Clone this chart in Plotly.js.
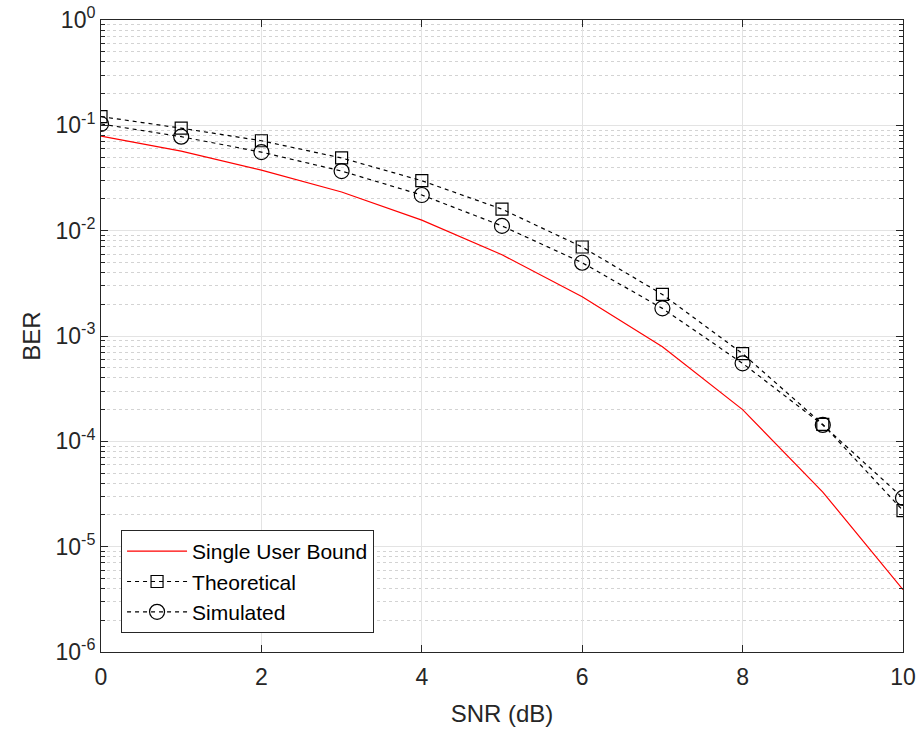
<!DOCTYPE html>
<html>
<head>
<meta charset="utf-8">
<script src="https://cdn.plot.ly/plotly-3.0.1.min.js"></script>
<style>html,body{margin:0;padding:0;background:#fff}#chart{width:920px;height:733px}</style>
</head>
<body>
<div id="chart"></div>
<script>
const snr = [0,1,2,3,4,5,6,7,8,9,10];
const singleUser = [0.079,0.057,0.0376,0.0233,0.0126,0.0059,0.00236,0.00079,0.0002,3.3e-5,3.9e-6];
const theoretical = [0.121,0.094,0.0714,0.049,0.0298,0.016,0.0070,0.00248,0.00068,1.45e-4,2.2e-5];
const simulated = [0.103,0.078,0.0557,0.0368,0.0218,0.0111,0.00496,0.00183,0.00055,1.43e-4,2.9e-5];
const yTickVals = [1e-6,1e-5,1e-4,1e-3,1e-2,1e-1,1];
const yTickText = ['10<sup>-6</sup>','10<sup>-5</sup>','10<sup>-4</sup>','10<sup>-3</sup>','10<sup>-2</sup>','10<sup>-1</sup>','10<sup>0</sup>'];

const font = '"Liberation Sans", Arial, sans-serif';
const traces = [
  {x: snr, y: singleUser, name: 'Single User Bound', mode: 'lines',
   line: {color: '#ff0000', width: 1.2}},
  {x: snr, y: theoretical, name: 'Theoretical', mode: 'lines+markers',
   line: {color: '#000000', width: 1.2, dash: '4px,4px'},
   marker: {symbol: 'square-open', size: 12, color: '#000000', line: {width: 1.2}}},
  {x: snr, y: simulated, name: 'Simulated', mode: 'lines+markers',
   line: {color: '#000000', width: 1.2, dash: '4px,4px'},
   marker: {symbol: 'circle-open', size: 15, color: '#000000', line: {width: 1.2}}}
];
const layout = {
  width: 920, height: 733,
  margin: {l: 101, r: 17, t: 20, b: 81},
  paper_bgcolor: '#ffffff', plot_bgcolor: '#ffffff',
  font: {family: font, size: 22, color: '#262626'},
  showlegend: true,
  legend: {x: 0.025, y: 0.03, xanchor: 'left', yanchor: 'bottom',
    bgcolor: '#ffffff', bordercolor: '#262626', borderwidth: 1,
    font: {family: font, size: 21, color: '#000000'}, tracegroupgap: 0,
    itemwidth: 60},
  xaxis: {
    range: [0, 10], dtick: 2, tick0: 0,
    showline: true, linecolor: '#262626', linewidth: 1, mirror: 'ticks',
    ticks: 'inside', ticklen: 7, tickcolor: '#262626', ticklabelstandoff: 4,
    showgrid: true, gridcolor: '#e3e3e3', gridwidth: 1, zeroline: false,
    tickfont: {family: font, size: 23, color: '#262626'},
    title: {text: 'SNR (dB)', font: {family: font, size: 24, color: '#262626'}, standoff: 16}
  },
  yaxis: {
    type: 'log', range: [-6, 0],
    tickmode: 'array', tickvals: yTickVals, ticktext: yTickText,
    showline: true, linecolor: '#262626', linewidth: 1, mirror: 'ticks',
    ticks: 'inside', ticklen: 7, tickcolor: '#262626',
    showgrid: true, gridcolor: '#e3e3e3', gridwidth: 1, zeroline: false,
    tickfont: {family: font, size: 23, color: '#262626'},
    minor: {dtick: 'D1', ticks: 'inside', ticklen: 4, tickcolor: '#262626',
      showgrid: true, gridcolor: '#d3d3d3', griddash: 'dot', gridwidth: 1},
    title: {text: 'BER', font: {family: font, size: 24, color: '#262626'}, standoff: 8}
  }
};
Plotly.newPlot('chart', traces, layout, {displayModeBar: false, staticPlot: true});
</script>
</body>
</html>
